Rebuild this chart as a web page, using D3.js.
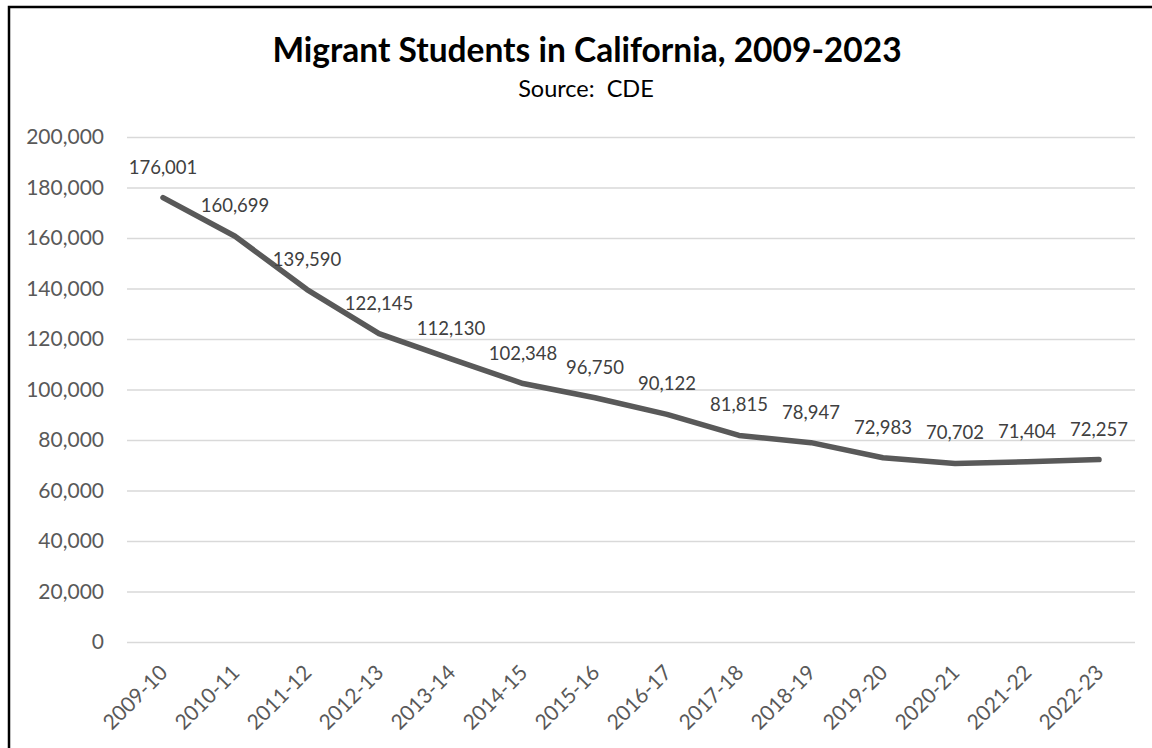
<!DOCTYPE html>
<html><head><meta charset="utf-8">
<script src="https://cdn.jsdelivr.net/npm/d3@7"></script>
<style>body{margin:0;background:#fff}svg{display:block}text{font-family:Lato,"Open Sans",sans-serif}</style>
</head><body><svg id="c" width="1152" height="748"></svg>
<script>
const categories=["2009-10","2010-11","2011-12","2012-13","2013-14","2014-15","2015-16","2016-17","2017-18","2018-19","2019-20","2020-21","2021-22","2022-23"];
const values=[176001,160699,139590,122145,112130,102348,96750,90122,81815,78947,72983,70702,71404,72257];
const yTicks=[0,20000,40000,60000,80000,100000,120000,140000,160000,180000,200000];
const title="Migrant Students in California, 2009-2023";
const subtitle="Source:  CDE";

const svg=d3.select("#c");
svg.append("rect").attr("x",9).attr("y",7).attr("width",1160).attr("height",760)
  .attr("fill","#fff").attr("stroke","#000").attr("stroke-width",2.5);

const m={l:127,r:1135,t:137,b:642};
const x=d3.scaleBand().domain(categories).range([m.l,m.r]);
const y=d3.scaleLinear().domain([0,200000]).range([m.b,m.t]);
const fmt=d3.format(",");

svg.append("text").attr("x",587).attr("y",62).attr("text-anchor","middle")
  .attr("font-size",33.5).attr("font-weight","bold").attr("fill","#000").text(title);
svg.append("text").attr("x",586).attr("y",97).attr("text-anchor","middle")
  .attr("font-size",23.5).attr("fill","#000").style("white-space","pre").text(subtitle);

const ya=svg.append("g").attr("transform",`translate(${m.l},0)`)
  .call(d3.axisLeft(y).tickValues(yTicks).tickFormat(fmt).tickSize(-(m.r-m.l)).tickPadding(23));
ya.select(".domain").remove();
ya.selectAll(".tick line").attr("stroke","#d9d9d9").attr("stroke-width",1.5);
ya.selectAll(".tick text").attr("fill","#595959").attr("font-size",21).attr("font-family","Lato");

const xa=svg.append("g").attr("transform",`translate(0,${m.b})`)
  .call(d3.axisBottom(x).tickSize(0).tickFormat(d=>d));
xa.select(".domain").remove();
xa.selectAll(".tick text").attr("fill","#595959").attr("font-size",21).attr("font-family","Lato")
  .attr("text-anchor","end").attr("transform","translate(-3,23) rotate(-45)").attr("dy","0.6em").attr("y",0);

const line=d3.line().x((d,i)=>x(categories[i])+x.bandwidth()/2).y(d=>y(d));
svg.append("path").datum(values).attr("d",line).attr("fill","none")
  .attr("stroke","#595959").attr("stroke-width",5.5).attr("stroke-linecap","round").attr("stroke-linejoin","round");

svg.append("g").selectAll("text").data(values).join("text")
  .attr("x",(d,i)=>x(categories[i])+x.bandwidth()/2).attr("y",d=>y(d)-24)
  .attr("text-anchor","middle").attr("font-size",18.5).attr("fill","#404040").text(d=>fmt(d));
</script></body></html>
